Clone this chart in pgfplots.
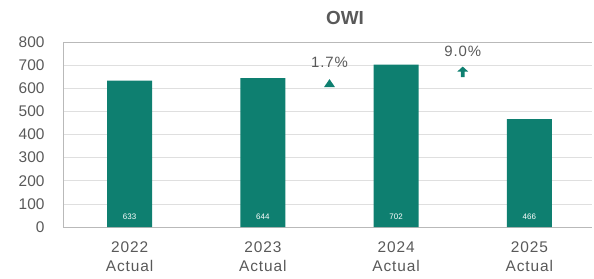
\documentclass[border=0pt]{standalone}
\usepackage{pgfplots}
\pgfplotsset{compat=1.18}
\usepackage{fontspec}
\setmainfont{Liberation Sans}
\newfontfamily\widefont[LetterSpace=6]{Liberation Sans}
\definecolor{teal1}{HTML}{0E7F70}
\definecolor{tgray}{HTML}{595959}
\pgfdeclareplotmark{uparrow}{%
  \pgfpathmoveto{\pgfqpoint{0pt}{5.5pt}}%
  \pgfpathlineto{\pgfqpoint{5.5pt}{0.5pt}}%
  \pgfpathlineto{\pgfqpoint{1.9pt}{0.5pt}}%
  \pgfpathlineto{\pgfqpoint{1.9pt}{-5pt}}%
  \pgfpathlineto{\pgfqpoint{-1.9pt}{-5pt}}%
  \pgfpathlineto{\pgfqpoint{-1.9pt}{0.5pt}}%
  \pgfpathlineto{\pgfqpoint{-5.5pt}{0.5pt}}%
  \pgfpathclose\pgfusepathqfill}
\pgfdeclareplotmark{uptri}{%
  \pgfpathmoveto{\pgfqpoint{0pt}{4.5pt}}%
  \pgfpathlineto{\pgfqpoint{5.5pt}{-3.5pt}}%
  \pgfpathlineto{\pgfqpoint{-5.5pt}{-3.5pt}}%
  \pgfpathclose\pgfusepathqfill}
\begin{document}
\begin{tikzpicture}
\useasboundingbox (0,0) rectangle (594bp,279bp);
\node[font=\fontsize{19}{20}\selectfont\bfseries, text=tgray] at (345bp,261bp) {OWI};
\begin{axis}[
  at={(63bp,52bp)}, anchor=south west,
  scale only axis, width=529bp, height=185bp,
  xmin=-0.5, xmax=3.47, ymin=0, ymax=800,
  ytick={0,100,...,800},
  xtick={0,1,2,3},
  xticklabels={2022\\Actual,2023\\Actual,2024\\Actual,2025\\Actual},
  xticklabel style={align=center, font=\widefont\fontsize{15.5}{19}\selectfont, text=tgray, yshift=-11bp},
  yticklabel style={font=\fontsize{15.5}{17}\selectfont, text=tgray, xshift=-15bp},
  /pgf/number format/assume math mode=true,
  ymajorgrids, grid style={draw=gray!25, line width=0.6pt},
  axis line style={draw=gray!55, line width=0.8pt},
  major tick length=0pt,
  axis x line*=bottom, axis y line*=left,
  clip=false,
]
\addplot[ybar, bar width=45bp, fill=teal1, draw=none]
  table {
x y
0 633
1 644
2 702
3 466
};
\addplot[only marks, mark=none,
  nodes near coords, point meta=explicit symbolic,
  every node near coord/.append style={font=\fontsize{8}{9}\selectfont, text=white, anchor=center}]
  table[meta=l] {
x y l
0 43 633
1 43 644
2 43 702
3 43 466
};
\draw[gray!55, line width=0.8pt] (axis cs:-0.5,800) -- (axis cs:3.47,800);
\addplot[only marks, mark=uptri, teal1,
  nodes near coords={1.7\%}, every node near coord/.append style={font=\widefont\fontsize{15}{17}\selectfont, text=tgray, yshift=13pt}]
  coordinates {(1.5,620)};
\addplot[only marks, mark=uparrow, teal1,
  nodes near coords={9.0\%}, every node near coord/.append style={font=\widefont\fontsize{15}{17}\selectfont, text=tgray, yshift=12pt}]
  coordinates {(2.5,670)};
\end{axis}
\end{tikzpicture}
\end{document}
